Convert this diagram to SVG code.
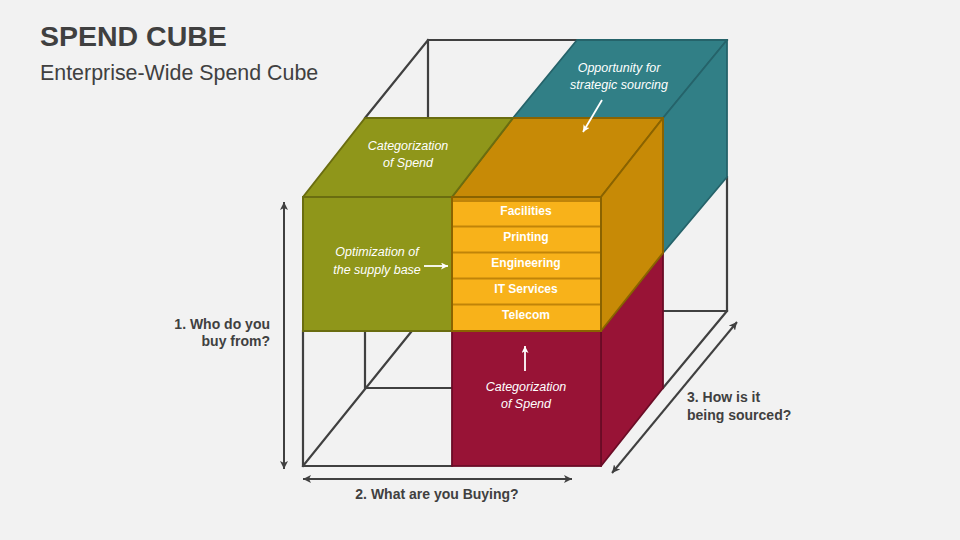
<svg xmlns="http://www.w3.org/2000/svg" width="960" height="540" viewBox="0 0 960 540">
<defs>
<style>
.t{font-family:"Liberation Sans",Arial,sans-serif;}
.wire{stroke:#404040;stroke-width:2.2;fill:none;stroke-linecap:square;}
.axis{stroke:#404040;stroke-width:2;fill:none;}
.lbl{font-family:"Liberation Sans",Arial,sans-serif;font-weight:bold;font-size:14px;fill:#404040;}
.it{font-family:"Liberation Sans",Arial,sans-serif;font-style:italic;font-size:12.5px;fill:#ffffff;text-anchor:middle;}
.row{font-family:"Liberation Sans",Arial,sans-serif;font-weight:bold;font-size:12px;fill:#ffffff;text-anchor:middle;}
.wa{stroke:#ffffff;stroke-width:1.8;fill:none;}
</style>
<marker id="ga" viewBox="0 0 8 8" refX="8" refY="4" markerWidth="8" markerHeight="8" markerUnits="userSpaceOnUse" orient="auto-start-reverse">
<path d="M0,0 L8,4 L0,8 L2,4 z" fill="#404040"/>
</marker>
<marker id="wa" viewBox="0 0 8 8" refX="8" refY="4" markerWidth="7" markerHeight="7" markerUnits="userSpaceOnUse" orient="auto">
<path d="M0,0 L8,4 L0,8 L2,4 z" fill="#ffffff"/>
</marker>
</defs>
<rect width="960" height="540" fill="#f2f2f2"/>

<g id="title">
<text class="t" x="40" y="46" font-size="28.5" font-weight="bold" fill="#404040">SPEND CUBE</text>
<text class="t" x="40" y="80" font-size="21.4" fill="#404040">Enterprise-Wide Spend Cube</text>
</g>

<g id="wireframe">
<path class="wire" d="M428,40 L727,40 M428,40 L365,118 M428,40 L428,118 M727,177 L727,311 M663,311 L727,311 M663,388 L727,311 M303,331 L303,466 L452,466 M303,466 L428,311 M365,331 L365,388 L452,388 M303,331 L452,331"/>
</g>

<g id="teal-block">
<polygon points="513,118 577,40 727,40 663,118" fill="#317f86" stroke="#25636a" stroke-width="1.8" stroke-linejoin="round"/>
<polygon points="663,118 727,40 727,177 663,253" fill="#317f86" stroke="#25636a" stroke-width="1.8" stroke-linejoin="round"/>
<text class="it" x="619" y="72">Opportunity for</text>
<text class="it" x="619" y="89">strategic sourcing</text>
</g>

<g id="crimson-block">
<polygon points="601,331 663,253 663,388 601,466" fill="#981336" stroke="#6b0c26" stroke-width="1.8" stroke-linejoin="round"/>
<rect x="452" y="331" width="149" height="135" fill="#981336" stroke="#6b0c26" stroke-width="1.8"/>
<text class="it" x="526" y="391">Categorization</text>
<text class="it" x="526" y="408">of Spend</text>
</g>

<g id="orange-block">
<polygon points="452,197 513,118 663,118 601,197" fill="#c78a06" stroke="#8a6300" stroke-width="2" stroke-linejoin="round"/>
<polygon points="601,197 663,118 663,253 601,331" fill="#c78a06" stroke="#8a6300" stroke-width="2" stroke-linejoin="round"/>
</g>

<g id="olive-block">
<polygon points="303,197 365,118 513,118 452,197" fill="#8f961a" stroke="#6a6d10" stroke-width="2" stroke-linejoin="round"/>
<rect x="303" y="197" width="149" height="134" fill="#8f961a" stroke="#6a6d10" stroke-width="2"/>
<text class="it" x="408" y="150">Categorization</text>
<text class="it" x="408" y="167">of Spend</text>
<text class="it" x="377" y="256">Optimization of</text>
<text class="it" x="377" y="274">the supply base</text>
</g>

<g id="categories">
<rect x="452" y="197" width="149" height="134" fill="#c78a06" stroke="#8a6300" stroke-width="2"/>
<rect x="453" y="201" width="147" height="129" fill="#f8b21a"/>
<path d="M453,201 H600 M453,226.5 H600 M453,252.5 H600 M453,278.5 H600 M453,304.5 H600" stroke="#c08409" stroke-width="2"/>
<rect x="452" y="197" width="149" height="134" fill="none" stroke="#8a6300" stroke-width="2"/>
<text class="row" x="526" y="215">Facilities</text>
<text class="row" x="526" y="241">Printing</text>
<text class="row" x="526" y="267">Engineering</text>
<text class="row" x="526" y="293">IT Services</text>
<text class="row" x="526" y="319">Telecom</text>
</g>

<g id="connectors">
<line class="wa" x1="602" y1="100" x2="583" y2="132" marker-end="url(#wa)"/>
<line class="wa" x1="424" y1="266" x2="448" y2="266" marker-end="url(#wa)"/>
<line class="wa" x1="525" y1="371" x2="525" y2="346" marker-end="url(#wa)"/>
<line class="axis" x1="284" y1="202" x2="284" y2="469" marker-start="url(#ga)" marker-end="url(#ga)"/>
<line class="axis" x1="303" y1="479" x2="572" y2="479" marker-start="url(#ga)" marker-end="url(#ga)"/>
<line class="axis" x1="612" y1="473" x2="737" y2="322" marker-start="url(#ga)" marker-end="url(#ga)"/>
</g>

<g id="axis-labels">
<text class="lbl" x="270" y="329" text-anchor="end">1. Who do you</text>
<text class="lbl" x="270" y="346" text-anchor="end">buy from?</text>
<text class="lbl" x="437" y="499" text-anchor="middle">2. What are you Buying?</text>
<text class="lbl" x="687" y="402">3. How is it</text>
<text class="lbl" x="687" y="420">being sourced?</text>
</g>
</svg>
